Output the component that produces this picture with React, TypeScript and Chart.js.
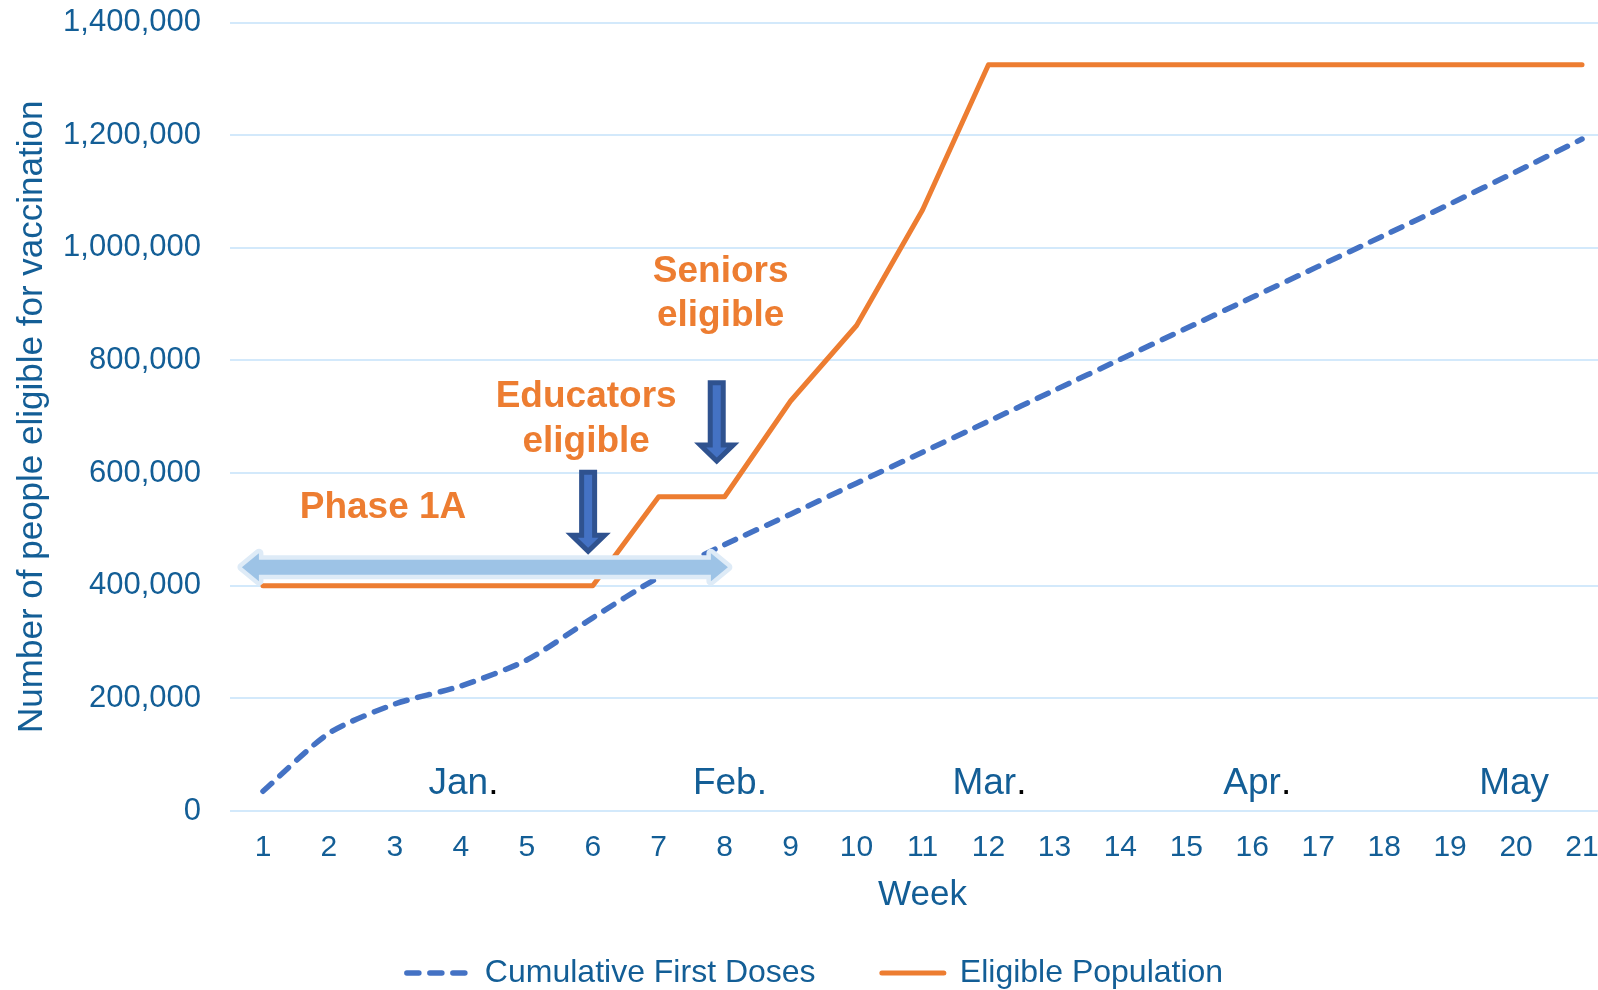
import React, { useEffect, useRef } from 'react';
import { Chart, registerables } from 'chart.js';

Chart.register(...registerables);

// ---------- data ----------
const weeks = ['1', '2', '3', '4', '5', '6', '7', '8', '9', '10', '11', '12', '13', '14', '15', '16', '17', '18', '19', '20', '21'];
const cumulativeFirstDoses = [35000, 138000, 190000, 222000, 268000, 343000, 415000, 473000, 527000, 582000, 637000, 692000, 747000, 802000, 857000, 912000, 967000, 1022000, 1078000, 1135000, 1193000];
const eligiblePopulation = [400000, 400000, 400000, 400000, 400000, 400000, 558000, 558000, 728000, 862000, 1067000, 1325000, 1325000, 1325000, 1325000, 1325000, 1325000, 1325000, 1325000, 1325000, 1325000];
const yTickValues = [0, 200000, 400000, 600000, 800000, 1000000, 1200000, 1400000];
const monthLabels = ['Jan.', 'Feb.', 'Mar.', 'Apr.', 'May'];
const monthWeeks = [4.04, 8.08, 12.0, 16.06, 19.97];
const monthDotBlack = [true, false, true, true, false];
const seriesNames = ['Cumulative First Doses', 'Eligible Population'];

// annotations (week, value)
const phaseText = { text: ['Phase 1A'], week: 2.82, values: [520000] };
const educatorsText = { text: ['Educators', 'eligible'], week: 5.9, values: [717000, 637000] };
const seniorsText = { text: ['Seniors', 'eligible'], week: 7.94, values: [940000, 861000] };
const downArrows = [
  { week: 5.93, top: 606000, tip: 456000 },
  { week: 7.88, top: 765000, tip: 616000 },
];
const phaseArrow = { fromWeek: 0.62, toWeek: 8.11, value: 433000 };

// ---------- styles ----------
const FONT = '"Liberation Sans", Arial, Helvetica, sans-serif';
const TEXT_BLUE = '#135E96';
const ORANGE = '#ED7D31';
const BLUE = '#4472C4';
const GRID = '#D3E9FB';
const DASH = [12, 11];

const annotationPlugin = {
  id: 'customAnnotations',
  afterDatasetsDraw(chart: any) {
    const ctx = chart.ctx as CanvasRenderingContext2D;
    const xs = chart.scales.x;
    const ys = chart.scales.y;
    const px = (w: number) => xs.getPixelForValue(w - 1);
    const py = (v: number) => ys.getPixelForValue(v);
    ctx.save();

    // month labels
    ctx.font = `37px ${FONT}`;
    ctx.textBaseline = 'alphabetic';
    ctx.textAlign = 'left';
    monthLabels.forEach((m, i) => {
      const total = ctx.measureText(m).width;
      const hasDot = m.endsWith('.');
      const body = hasDot ? m.slice(0, -1) : m;
      const bw = ctx.measureText(body).width;
      const sx = px(monthWeeks[i]) - total / 2;
      const by = py(30000);
      ctx.fillStyle = TEXT_BLUE;
      ctx.fillText(body, sx, by);
      if (hasDot) {
        ctx.fillStyle = monthDotBlack[i] ? '#000000' : TEXT_BLUE;
        ctx.fillText('.', sx + bw, by);
      }
    });

    // phase double arrow
    {
      const xl = px(phaseArrow.fromWeek) + 4;
      const xr = px(phaseArrow.toWeek) - 4;
      const yc = py(phaseArrow.value);
      const sh = 7.5;
      const hh = 14;
      const hl = 17;
      ctx.beginPath();
      ctx.moveTo(xl, yc);
      ctx.lineTo(xl + hl, yc - hh);
      ctx.lineTo(xl + hl, yc - sh);
      ctx.lineTo(xr - hl, yc - sh);
      ctx.lineTo(xr - hl, yc - hh);
      ctx.lineTo(xr, yc);
      ctx.lineTo(xr - hl, yc + hh);
      ctx.lineTo(xr - hl, yc + sh);
      ctx.lineTo(xl + hl, yc + sh);
      ctx.lineTo(xl + hl, yc + hh);
      ctx.closePath();
      ctx.lineJoin = 'round';
      ctx.lineWidth = 9;
      ctx.strokeStyle = '#DEEBF7';
      ctx.stroke();
      ctx.fillStyle = '#9DC3E6';
      ctx.fill();
    }

    // down arrows
    downArrows.forEach((a) => {
      const cx = px(a.week);
      const top = py(a.top) + 2.5;
      const tip = py(a.tip) - 3;
      const sh = 6.5;
      const hh = 16.5;
      const headStart = tip - 16;
      ctx.beginPath();
      ctx.moveTo(cx - sh, top);
      ctx.lineTo(cx + sh, top);
      ctx.lineTo(cx + sh, headStart);
      ctx.lineTo(cx + hh, headStart);
      ctx.lineTo(cx, tip);
      ctx.lineTo(cx - hh, headStart);
      ctx.lineTo(cx - sh, headStart);
      ctx.closePath();
      ctx.lineJoin = 'miter';
      ctx.fillStyle = BLUE;
      ctx.fill();
      ctx.lineWidth = 5;
      ctx.strokeStyle = '#2F528F';
      ctx.stroke();
    });

    // orange texts
    ctx.font = `bold 37px ${FONT}`;
    ctx.fillStyle = ORANGE;
    ctx.textAlign = 'center';
    ctx.textBaseline = 'alphabetic';
    [phaseText, educatorsText, seniorsText].forEach((t) => {
      t.text.forEach((line, i) => {
        ctx.fillText(line, px(t.week), py(t.values[i]));
      });
    });

    ctx.restore();
  },
};

export default function App() {
  const canvasRef = useRef<HTMLCanvasElement | null>(null);

  useEffect(() => {
    const canvas = canvasRef.current;
    if (!canvas) return;
    const chart = new Chart(canvas, {
      type: 'line',
      data: {
        labels: weeks,
        datasets: [
          {
            label: seriesNames[0],
            data: cumulativeFirstDoses,
            borderColor: BLUE,
            backgroundColor: BLUE,
            borderWidth: 5.5,
            borderDash: DASH,
            borderCapStyle: 'round',
            borderJoinStyle: 'round',
            pointRadius: 0,
            tension: 0.25,
            fill: false,
          },
          {
            label: seriesNames[1],
            data: eligiblePopulation,
            borderColor: ORANGE,
            backgroundColor: ORANGE,
            borderWidth: 5,
            borderCapStyle: 'round',
            borderJoinStyle: 'round',
            pointRadius: 0,
            tension: 0,
            fill: false,
          },
        ],
      },
      options: {
        animation: false,
        responsive: false,
        maintainAspectRatio: false,
        devicePixelRatio: 1,
        events: [],
        layout: { padding: { left: 15, right: 25, top: 22.5, bottom: -9 } },
        plugins: {
          legend: {
            display: true,
            position: 'bottom',
            labels: {
              usePointStyle: true,
              pointStyle: 'line',
              pointStyleWidth: 62,
              padding: 4,
              color: TEXT_BLUE,
              font: { family: FONT, size: 32 },
              generateLabels: (c: any) => {
                const items = (Chart.defaults.plugins.legend.labels as any).generateLabels(c);
                if (items[0]) {
                  items[0].text = items[0].text + '       ';
                  items[0].lineDash = DASH;
                  items[0].lineWidth = 5.5;
                  items[0].lineCap = 'round';
                  items[0].strokeStyle = BLUE;
                  items[0].fillStyle = BLUE;
                }
                if (items[1]) {
                  items[1].lineDash = [];
                  items[1].lineWidth = 5;
                  items[1].lineCap = 'round';
                  items[1].strokeStyle = ORANGE;
                  items[1].fillStyle = ORANGE;
                }
                return items;
              },
            },
          },
          tooltip: { enabled: false },
        },
        scales: {
          x: {
            type: 'category',
            offset: true,
            grid: { display: false, drawTicks: false },
            border: { display: false },
            ticks: {
              color: TEXT_BLUE,
              font: { family: FONT, size: 30 },
              padding: 19,
              autoSkip: false,
              maxRotation: 0,
            },
            title: {
              display: true,
              text: 'Week',
              color: TEXT_BLUE,
              font: { family: FONT, size: 35 },
              padding: { top: 0, bottom: 36.5 },
            },
            afterFit: (s: any) => {
              s.height = 142;
            },
          },
          y: {
            min: 0,
            max: 1400000,
            afterBuildTicks: (s: any) => {
              s.ticks = yTickValues.map((v) => ({ value: v }));
            },
            ticks: {
              color: TEXT_BLUE,
              font: { family: FONT, size: 31 },
              padding: 29,
              callback: (v: any) => Number(v).toLocaleString('en-US'),
            },
            grid: { color: GRID, lineWidth: 2, drawTicks: false },
            border: { display: false },
            title: {
              display: true,
              text: 'Number of people eligible for vaccination',
              color: TEXT_BLUE,
              font: { family: FONT, size: 35, lineHeight: 1 },
              padding: 0,
            },
            afterFit: (s: any) => {
              s.width = 215;
              s.paddingTop = 0;
              s.paddingBottom = 0;
            },
          },
        },
      } as any,
      plugins: [annotationPlugin],
    });
    return () => chart.destroy();
  }, []);

  return (
    <div
      style={{
        position: 'fixed',
        left: 0,
        top: 0,
        width: 1598,
        height: 990,
        overflow: 'hidden',
        background: '#ffffff',
      }}
    >
      <canvas ref={canvasRef} width={1640} height={990} style={{ display: 'block', width: 1640, height: 990 }} />
    </div>
  );
}
